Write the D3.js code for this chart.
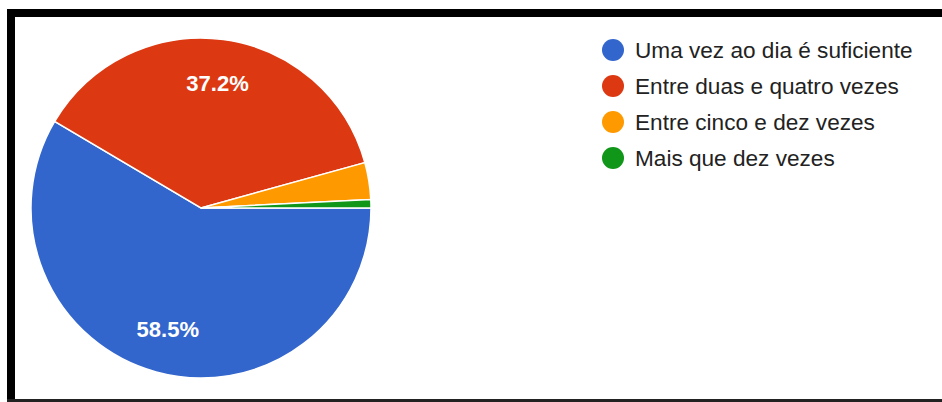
<!DOCTYPE html>
<html>
<head>
<meta charset="utf-8">
<script src="https://cdn.jsdelivr.net/npm/d3@7"></script>
<style>
  html, body { margin: 0; padding: 0; background: #fff; }
  svg { display: block; }
</style>
</head>
<body>
<svg id="chart" width="942" height="402"></svg>
<script>
// Answers: how many times a day is enough
const categories = [
  "Uma vez ao dia é suficiente",
  "Entre duas e quatro vezes",
  "Entre cinco e dez vezes",
  "Mais que dez vezes"
];
const shares = [58.5, 37.2, 3.5, 0.8];
const colors = ["#3366cc", "#dc3912", "#ff9900", "#109618"];

const width = 942, height = 402;
const svg = d3.select("#chart");

// Frame
svg.append("rect").attr("x", 7).attr("y", 9).attr("width", width - 7).attr("height", 8).attr("fill", "#000");
svg.append("rect").attr("x", 7).attr("y", 9).attr("width", 8).attr("height", height - 9).attr("fill", "#000");
svg.append("rect").attr("x", 7).attr("y", 399).attr("width", width - 7).attr("height", 3).attr("fill", "#222");

const cx = 201, cy = 208, r = 170;
const data = categories.map((c, i) => ({ name: c, value: shares[i], color: colors[i] }));

const pie = d3.pie()
  .value(d => d.value)
  .sort(null)
  .startAngle(Math.PI / 2)
  .endAngle(Math.PI / 2 + 2 * Math.PI);

const arc = d3.arc().innerRadius(0).outerRadius(r);
const labelArc = d3.arc().innerRadius(r * 0.74).outerRadius(r * 0.74);

const g = svg.append("g").attr("transform", `translate(${cx},${cy})`);
const arcs = pie(data);

g.selectAll("path.slice")
  .data(arcs)
  .join("path")
  .attr("class", "slice")
  .attr("d", arc)
  .attr("fill", d => d.data.color)
  .attr("stroke", "#fff")
  .attr("stroke-width", 1.5);

g.selectAll("text.pct")
  .data(arcs.filter(d => d.data.value >= 5))
  .join("text")
  .attr("class", "pct")
  .attr("transform", d => `translate(${labelArc.centroid(d)})`)
  .attr("text-anchor", "middle")
  .attr("dy", "0.36em")
  .attr("fill", "#fff")
  .attr("font-family", "Liberation Sans, Arial, sans-serif")
  .attr("font-weight", "bold")
  .attr("font-size", 22)
  .text(d => d.data.value.toFixed(1) + "%");

// Legend
const legend = svg.append("g").attr("transform", "translate(613,50)");
const rowH = 36;
const item = legend.selectAll("g.item")
  .data(data)
  .join("g")
  .attr("class", "item")
  .attr("transform", (d, i) => `translate(0,${i * rowH})`);

item.append("circle").attr("r", 11).attr("fill", d => d.color);
item.append("text")
  .attr("x", 22)
  .attr("dy", "0.34em")
  .attr("fill", "#222")
  .attr("font-family", "Liberation Sans, Arial, sans-serif")
  .attr("font-size", 22.6)
  .text(d => d.name);
</script>
</body>
</html>
